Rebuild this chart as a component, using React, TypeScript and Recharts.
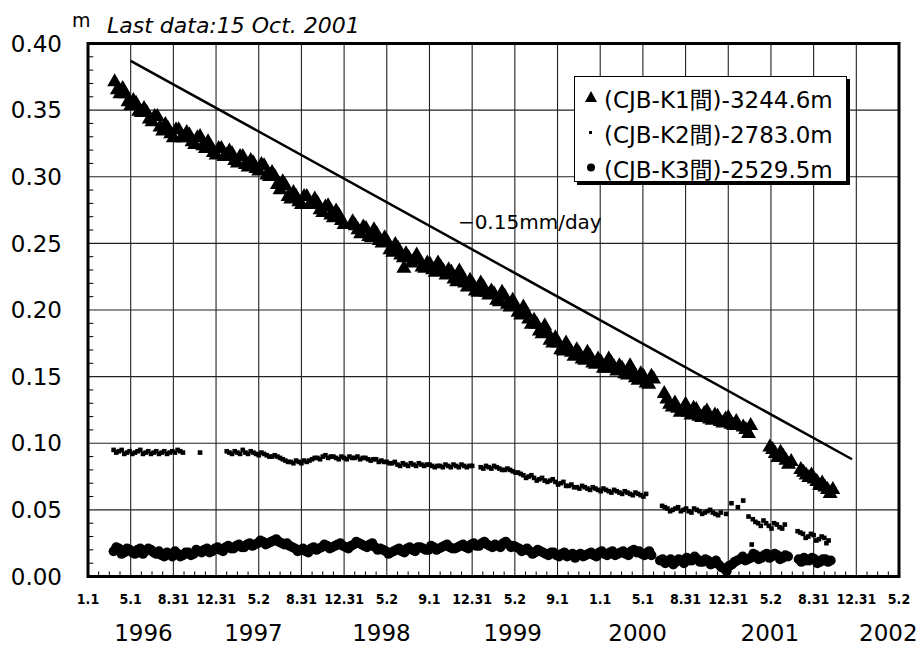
import React from 'react';
import {
  ScatterChart, Scatter, XAxis, YAxis, CartesianGrid, ReferenceArea,
  ReferenceLine, ReferenceDot, Legend,
} from 'recharts';

const FONT = '"DejaVu Sans", "Noto Sans CJK JP", sans-serif';

// x = months since 1 Jan 1996 (axis tick spacing = 4 months)
const xTickMonths = [0, 4, 8, 12, 16, 20, 24, 28, 32, 36, 40, 44, 48, 52, 56, 60, 64, 68, 72, 76];
const xTickLabels = ['1.1', '5.1', '8.31', '12.31', '5.2', '8.31', '12.31', '5.2', '9.1', '12.31', '5.2', '9.1', '1.1', '5.1', '8.31', '12.31', '5.2', '8.31', '12.31', '5.2'];
const yearTickMonths = [5.2, 15.5, 27.5, 39.8, 51.5, 63.9, 75.0];
const yearLabels = ['1996', '1997', '1998', '1999', '2000', '2001', '2002'];
const yTicks = [0, 0.05, 0.1, 0.15, 0.2, 0.25, 0.3, 0.35, 0.4];

const seriesNames = ['(CJB-K1間)-3244.6m', '(CJB-K2間)-2783.0m', '(CJB-K3間)-2529.5m'];
const trendStart = { x: 4, y: 0.387 };
const trendEnd = { x: 71.6, y: 0.088 };
const trendLabel = '−0.15mm/day';
const trendLabelPos = { x: 41.4, y: 0.266 };

const k1: [number, number][] = [
  [2.5, .372], [3.0, .363], [3.5, .363], [4.0, .354], [4.5, .356], [5.0, .349], [5.5, .349], [6.0, .342],
  [6.5, .346], [7.0, .335], [7.5, .337], [8.0, .330], [8.5, .336], [9.0, .330], [9.5, .332], [10.0, .325],
  [10.5, .331], [11.0, .322], [11.5, .323], [12.0, .317], [12.5, .322], [13.0, .317], [13.5, .318], [14.0, .311],
  [14.5, .316], [15.0, .308], [15.5, .311], [16.0, .305], [16.5, .309], [17.0, .301], [17.5, .301], [18.0, .291],
  [18.5, .294], [19.0, .284], [19.5, .286], [20.0, .280], [20.5, .286], [21.0, .280], [21.5, .281], [22.0, .274],
  [22.5, .279], [23.0, .270], [23.5, .272], [24.0, .265],
  [24.8, .267], [25.3, .261], [25.8, .263], [26.3, .256], [26.8, .261], [27.3, .253], [27.8, .255], [28.3, .246],
  [28.8, .250], [29.3, .242], [29.6, .232], [29.8, .243], [30.3, .236], [30.8, .242], [31.3, .233], [31.8, .236],
  [32.3, .231], [32.8, .236], [33.3, .230], [33.8, .231], [34.3, .224], [34.8, .230], [35.3, .221], [35.8, .223],
  [36.3, .215], [36.8, .221], [37.3, .214], [37.8, .215], [38.3, .208], [38.8, .214], [39.3, .205], [39.8, .208],
  [40.3, .199], [40.8, .203], [41.3, .194], [41.8, .193], [42.3, .185], [42.8, .189], [43.3, .178], [43.8, .180],
  [44.3, .171], [44.8, .176], [45.3, .169], [45.8, .171], [46.3, .164], [46.8, .169], [47.3, .161], [47.8, .164],
  [48.3, .157], [48.8, .164], [49.3, .158], [49.8, .159], [50.3, .153], [50.8, .159], [51.3, .150], [51.8, .153],
  [52.3, .146], [52.8, .151],
  [54.0, .138], [54.5, .130], [55.0, .131], [55.5, .124], [56.0, .130], [56.5, .122], [57.0, .126], [57.5, .120],
  [58.0, .125], [58.5, .118], [59.0, .121], [59.5, .116], [60.0, .120], [60.5, .114],
  [61.4, .113], [61.9, .108], [62.1, .114],
  [63.9, .098], [64.4, .093], [64.9, .094], [65.4, .088], [65.9, .087],
  [66.8, .081], [67.3, .077], [67.8, .077], [68.3, .072], [68.8, .071], [69.3, .066], [69.8, .066],
];
const k1b: [number, number][] = [
  [2.75, .366], [3.25, .367], [3.75, .357], [4.25, .358], [4.75, .350], [5.25, .352], [5.75, .344], [6.25, .346],
  [6.75, .338], [7.25, .340], [7.75, .333], [8.25, .336], [8.75, .330], [9.25, .334], [9.75, .327], [10.25, .330],
  [10.75, .324], [11.25, .327], [11.75, .319], [12.25, .322], [12.75, .316], [13.25, .320], [13.75, .313], [14.25, .316],
  [14.75, .310], [15.25, .313], [15.75, .307], [16.25, .310], [16.75, .302], [17.25, .304], [17.75, .295], [18.25, .297],
  [18.75, .286], [19.25, .289], [19.75, .282], [20.25, .286], [20.75, .280], [21.25, .284], [21.75, .276], [22.25, .278],
  [22.75, .272], [23.25, .275], [23.75, .268],
  [25.05, .264], [25.55, .258], [26.05, .262], [26.55, .255], [27.05, .258], [27.55, .251], [28.05, .252], [28.55, .244],
  [29.05, .247], [29.55, .240], [30.05, .240], [30.55, .238], [31.05, .238], [31.55, .232], [32.05, .235], [32.55, .229],
  [33.05, .233], [33.55, .227], [34.05, .229], [34.55, .222], [35.05, .226], [35.55, .218], [36.05, .220], [36.55, .214],
  [37.05, .218], [37.55, .212], [38.05, .213], [38.55, .207], [39.05, .211], [39.55, .203], [40.05, .204], [40.55, .197],
  [41.05, .199], [41.55, .190], [42.05, .190], [42.55, .183], [43.05, .184], [43.55, .176], [44.05, .176], [44.55, .170],
  [45.05, .172], [45.55, .166], [46.05, .168], [46.55, .163], [47.05, .166], [47.55, .160], [48.05, .162], [48.55, .157],
  [49.05, .161], [49.55, .155], [50.05, .157], [50.55, .152], [51.05, .155], [51.55, .148], [52.05, .151], [52.55, .145],
  [53.0, .149],
  [54.25, .134], [54.75, .128], [55.25, .127], [55.75, .126], [56.25, .124], [56.75, .127], [57.25, .121], [57.75, .123],
  [58.25, .119], [58.75, .122], [59.25, .117], [59.75, .119], [60.25, .115], [60.75, .117], [61.65, .111],
  [64.15, .096], [64.65, .090], [65.15, .091], [65.65, .085],
  [67.05, .079], [67.55, .075], [68.05, .074], [68.55, .069], [69.05, .068], [69.55, .063],
];

const k2: [number, number][] = [
  [2.4, .095], [2.9, .094], [3.4, .092], [3.9, .094], [4.4, .093], [4.9, .095], [5.4, .093], [5.9, .092],
  [6.4, .094], [6.9, .093], [7.4, .092], [7.9, .094], [8.4, .095], [8.9, .093], [10.5, .093],
  [13.0, .094], [13.5, .092], [14.0, .093], [14.5, .095], [15.0, .092], [15.5, .093], [16.0, .091], [16.5, .092],
  [17.0, .090], [17.5, .091], [18.0, .089], [18.5, .087], [19.0, .086], [19.5, .087], [20.0, .085], [20.5, .086],
  [21.0, .088], [21.5, .089], [22.0, .090], [22.5, .089], [23.0, .090], [23.5, .088], [24.0, .089], [24.5, .090],
  [25.0, .089], [25.5, .088], [26.0, .089], [26.5, .087], [27.0, .088], [27.5, .087], [28.0, .086], [28.5, .085],
  [29.0, .084], [29.5, .085], [30.0, .083], [30.5, .084], [31.0, .085], [31.5, .083], [32.0, .084], [32.5, .082],
  [33.0, .083], [33.5, .084], [34.0, .082], [34.5, .083], [35.0, .084], [35.5, .082], [36.0, .083],
  [36.8, .082], [37.3, .083], [37.8, .081], [38.3, .082], [38.8, .080], [39.3, .081], [39.8, .079], [40.3, .078],
  [40.8, .076], [41.3, .075], [41.8, .074], [42.3, .073], [42.8, .072], [43.3, .072], [43.8, .071], [44.3, .070],
  [44.8, .068], [45.3, .069], [45.8, .067], [46.3, .068], [46.8, .066], [47.3, .067], [47.8, .065], [48.3, .066],
  [48.8, .064], [49.3, .065], [49.8, .063], [50.3, .064], [50.8, .062], [51.3, .063], [51.8, .061], [52.3, .062],
  [53.8, .053], [54.3, .051], [54.8, .050], [55.3, .052], [55.8, .050], [56.3, .049], [56.8, .051], [57.3, .049],
  [57.8, .048], [58.3, .050], [58.8, .047], [59.3, .048], [59.8, .047],
  [60.3, .055], [60.9, .052], [61.4, .057], [61.9, .045], [62.2, .024],
  [62.3, .043], [62.8, .040], [63.3, .042], [63.8, .038], [64.3, .040], [64.8, .037], [65.3, .039],
  [66.5, .034], [67.0, .032], [67.5, .030], [68.0, .031], [68.5, .028], [69.0, .029], [69.4, .027],
];
const k2b: [number, number][] = [
  [2.65, .093], [3.15, .095], [3.65, .093], [4.15, .092], [4.65, .094], [5.15, .092], [5.65, .094], [6.15, .093],
  [6.65, .092], [7.15, .094], [7.65, .093], [8.15, .093], [8.65, .094],
  [13.25, .093], [13.75, .094], [14.25, .092], [14.75, .093], [15.25, .094], [15.75, .092], [16.25, .093], [16.75, .091],
  [17.25, .090], [17.75, .090], [18.25, .088], [18.75, .086], [19.25, .085], [19.75, .086], [20.25, .087], [20.75, .087],
  [21.25, .089], [21.75, .088], [22.25, .091], [22.75, .090], [23.25, .089], [23.75, .090], [24.25, .088], [24.75, .089],
  [25.25, .090], [25.75, .089], [26.25, .088], [26.75, .088], [27.25, .086], [27.75, .086], [28.25, .085], [28.75, .086],
  [29.25, .083], [29.75, .084], [30.25, .085], [30.75, .083], [31.25, .084], [31.75, .084], [32.25, .083], [32.75, .083],
  [33.25, .082], [33.75, .083], [34.25, .084], [34.75, .082], [35.25, .083], [35.75, .083],
  [37.05, .081], [37.55, .082], [38.05, .083], [38.55, .081], [39.05, .080], [39.55, .080], [40.05, .078], [40.55, .077],
  [41.05, .074], [41.55, .076], [42.05, .072], [42.55, .074], [43.05, .071], [43.55, .073], [44.05, .069], [44.55, .071],
  [45.05, .068], [45.55, .067], [46.05, .066], [46.55, .067], [47.05, .065], [47.55, .066], [48.05, .064], [48.55, .065],
  [49.05, .063], [49.55, .064], [50.05, .062], [50.55, .063], [51.05, .061], [51.55, .062], [52.05, .060],
  [54.05, .052], [54.55, .049], [55.05, .051], [55.55, .049], [56.05, .051], [56.55, .048], [57.05, .050], [57.55, .047],
  [58.05, .049], [58.55, .048], [59.05, .046],
  [62.55, .041], [63.05, .038], [63.55, .040], [64.05, .036], [64.55, .039], [65.05, .036],
  [66.75, .033], [67.25, .029], [67.75, .032], [68.25, .027], [68.75, .030], [69.2, .025],
];

const k3: [number, number][] = [
  [2.4, .019], [2.9, .021], [3.4, .018], [3.9, .020], [4.4, .017], [4.9, .021], [5.4, .019], [5.9, .020],
  [6.4, .017], [6.9, .016], [7.4, .018], [7.9, .015], [8.4, .017], [8.9, .016], [9.4, .018], [9.9, .017],
  [10.4, .019], [10.9, .020], [11.4, .018], [11.9, .021], [12.4, .020], [12.9, .022], [13.4, .021], [13.9, .023],
  [14.4, .022], [14.9, .024], [15.4, .023], [15.9, .025], [16.4, .026], [16.9, .025], [17.4, .027], [17.9, .026],
  [18.4, .024], [18.9, .023], [19.4, .021], [19.9, .020], [20.4, .019], [20.9, .021], [21.4, .020], [21.9, .022],
  [22.4, .023], [22.9, .022], [23.4, .024], [23.9, .023], [24.4, .021], [24.9, .024], [25.4, .025], [25.9, .023],
  [26.4, .024], [26.9, .022], [27.4, .021], [27.9, .019], [28.4, .018], [28.9, .020], [29.4, .019], [29.9, .021],
  [30.4, .020], [30.9, .022], [31.4, .021], [31.9, .020], [32.4, .022], [32.9, .021], [33.4, .023], [33.9, .022],
  [34.4, .021], [34.9, .023], [35.4, .022], [35.9, .024], [36.4, .023], [36.9, .025], [37.4, .024], [37.9, .022],
  [38.4, .023], [38.9, .025], [39.4, .024], [39.9, .023], [40.4, .021], [40.9, .020], [41.4, .019], [41.9, .018],
  [42.4, .019], [42.9, .017], [43.4, .018], [43.9, .016], [44.4, .017], [44.9, .015], [45.4, .017], [45.9, .016],
  [46.4, .015], [46.9, .017], [47.4, .016], [47.9, .018], [48.4, .017], [48.9, .018], [49.4, .016], [49.9, .018],
  [50.4, .017], [50.9, .019], [51.4, .018], [51.9, .017], [52.4, .018], [52.8, .016],
  [53.6, .012], [54.1, .010], [54.6, .013], [55.1, .011], [55.6, .012], [56.1, .014], [56.6, .012], [57.1, .013],
  [57.6, .011], [58.1, .012], [58.6, .010], [59.1, .009], [59.6, .006], [60.1, .008], [60.6, .011], [61.1, .013],
  [61.6, .012], [62.1, .014], [62.6, .016], [63.1, .014], [63.6, .017], [64.1, .015], [64.6, .016], [65.1, .014],
  [65.6, .015],
  [66.6, .013], [67.1, .014], [67.6, .012], [68.1, .013], [68.6, .011], [69.1, .013], [69.6, .012],
];
const k3b: [number, number][] = [
  [2.65, .022], [3.15, .017], [3.65, .021], [4.15, .018], [4.65, .020], [5.15, .017], [5.65, .021], [6.15, .018],
  [6.65, .019], [7.15, .015], [7.65, .017], [8.15, .019], [8.65, .015], [9.15, .018], [9.65, .016], [10.15, .020],
  [10.65, .018], [11.15, .021], [11.65, .019], [12.15, .022], [12.65, .019], [13.15, .023], [13.65, .021], [14.15, .024],
  [14.65, .022], [15.15, .025], [15.65, .024], [16.15, .027], [16.65, .024], [17.15, .026], [17.65, .028], [18.15, .025],
  [18.65, .025], [19.15, .022], [19.65, .019], [20.15, .021], [20.65, .018], [21.15, .022], [21.65, .021], [22.15, .024],
  [22.65, .021], [23.15, .023], [23.65, .025], [24.15, .022], [24.65, .023], [25.15, .026], [25.65, .024], [26.15, .022],
  [26.65, .025], [27.15, .020], [27.65, .020], [28.15, .017], [28.65, .019], [29.15, .021], [29.65, .018], [30.15, .022],
  [30.65, .019], [31.15, .022], [31.65, .020], [32.15, .023], [32.65, .020], [33.15, .022], [33.65, .024], [34.15, .021],
  [34.65, .022], [35.15, .024], [35.65, .021], [36.15, .025], [36.65, .023], [37.15, .026], [37.65, .023], [38.15, .024],
  [38.65, .022], [39.15, .026], [39.65, .022], [40.15, .022], [40.65, .019], [41.15, .021], [41.65, .017], [42.15, .020],
  [42.65, .018], [43.15, .016], [43.65, .018], [44.15, .015], [44.65, .018], [45.15, .016], [45.65, .014], [46.15, .017],
  [46.65, .016], [47.15, .018], [47.65, .015], [48.15, .019], [48.65, .016], [49.15, .019], [49.65, .017], [50.15, .019],
  [50.65, .016], [51.15, .020], [51.65, .019], [52.15, .016], [52.6, .019],
  [53.85, .013], [54.35, .011], [54.85, .009], [55.35, .013], [55.85, .010], [56.35, .012], [56.85, .015], [57.35, .011],
  [57.85, .013], [58.35, .009], [58.85, .012], [59.35, .007], [59.85, .004], [60.35, .009], [60.85, .012], [61.35, .015],
  [61.85, .013], [62.35, .017], [62.85, .013], [63.35, .016], [63.85, .014], [64.35, .017], [64.85, .013], [65.35, .016],
  [66.85, .011], [67.35, .012], [67.85, .014], [68.35, .010], [68.85, .013], [69.35, .011],
];

const toPts = (arr: [number, number][]) => arr.map(([x, y]) => ({ x, y }));
const minorXTicks = Array.from({ length: 75 }, (_, i) => i + 1).filter((m) => m % 4 !== 0);
const minorYTicks = Array.from({ length: 39 }, (_, i) => +((i + 1) * 0.01).toFixed(2)).filter((_, i) => (i + 1) % 5 !== 0);

const Tri = (p: any) => (
  <polygon points={`${p.cx},${p.cy - 7.5} ${p.cx - 7.5},${p.cy + 5.5} ${p.cx + 7.5},${p.cy + 5.5}`} fill="#000" />
);
const Sq = (p: any) => <rect x={p.cx - 2.3} y={p.cy - 2.3} width={4.6} height={4.6} fill="#000" />;
const Dot = (p: any) => <circle cx={p.cx} cy={p.cy} r={5} fill="#000" />;

const legendSymbols = [
  <polygon key="a" points="6,1 0,12 12,12" fill="#000" />,
  <rect key="b" x={4} y={6} width={3} height={3} fill="#000" />,
  <circle key="c" cx={6} cy={7.5} r={4} fill="#000" />,
];

const LegendBox = () => (
  <div
    style={{
      width: 273, height: 106, boxSizing: 'border-box', border: '1px solid #000', background: '#fff',
      boxShadow: '3px 3px 0 #000', fontFamily: FONT, fontSize: 23, color: '#000', paddingTop: 3, paddingLeft: 10,
    }}
  >
    {seriesNames.map((n, i) => (
      <div key={n} style={{ height: 35, display: 'flex', alignItems: 'center', whiteSpace: 'nowrap' }}>
        <svg width={19} height={15} style={{ flex: 'none' }}>{legendSymbols[i]}</svg>
        <span>{n}</span>
      </div>
    ))}
  </div>
);

export default function App() {
  return (
    <div style={{ position: 'absolute', left: 0, top: 0, background: '#fff' }}>
      <ScatterChart width={919} height={648} margin={{ top: 43.5, right: 20, bottom: 43.5, left: 0 }}>
        <CartesianGrid stroke="#222" strokeWidth={1.1} />
        <XAxis
          dataKey="x" type="number" domain={[0, 76]} ticks={xTickMonths} interval={0}
          tickFormatter={(v: number) => xTickLabels[xTickMonths.indexOf(v)] ?? ''}
          tick={{ fill: '#000', fontSize: 14, fontFamily: '"DejaVu Sans Condensed", "DejaVu Sans", sans-serif', fontWeight: 'bold' }}
          tickLine={false} axisLine={false} tickSize={0} tickMargin={18} height={28}
        />
        <YAxis
          dataKey="y" type="number" domain={[0, 0.4]} ticks={yTicks} interval={0}
          tickFormatter={(v: number) => v.toFixed(2)}
          tick={{ fill: '#000', fontSize: 23, fontFamily: FONT }}
          tickLine={false} axisLine={false} tickSize={0} tickMargin={26} width={88}
        />
        {minorXTicks.map((m) => (
          <ReferenceLine key={`mx${m}`} segment={[{ x: m, y: 0 }, { x: m, y: 0.0038 }]} stroke="#000" strokeWidth={1} />
        ))}
        {minorYTicks.map((v) => (
          <ReferenceLine key={`my${v}`} segment={[{ x: 0, y: v }, { x: 0.5, y: v }]} stroke="#000" strokeWidth={1} />
        ))}
        <ReferenceArea x1={0} x2={76} y1={0} y2={0.4} fill="none" stroke="#000" strokeWidth={3} />
        <ReferenceLine segment={[trendStart, trendEnd]} stroke="#000" strokeWidth={2.5} />
        <ReferenceDot
          x={trendLabelPos.x} y={trendLabelPos.y} r={0} fill="none" stroke="none"
          label={{ value: trendLabel, position: 'center', fill: '#000', fontSize: 20, fontFamily: FONT }}
        />
        {yearTickMonths.map((m, i) => (
          <ReferenceDot
            key={yearLabels[i]} x={m} y={0} r={0} fill="none" stroke="none"
            label={{ value: yearLabels[i], position: 'bottom', offset: 48, fill: '#000', fontSize: 23, fontFamily: FONT }}
          />
        ))}
        <Scatter name={seriesNames[0]} data={toPts([...k1, ...k1b])} shape={Tri} isAnimationActive={false} />
        <Scatter name={seriesNames[1]} data={toPts([...k2, ...k2b])} shape={Sq} isAnimationActive={false} />
        <Scatter name={seriesNames[2]} data={toPts([...k3, ...k3b])} shape={Dot} isAnimationActive={false} />
        <Legend
          layout="vertical" align="center" verticalAlign="middle" content={LegendBox}
          wrapperStyle={{ left: 574, top: 76, width: 276, height: 110 }}
        />
        <text x={72} y={27} fontSize={19} fontFamily={FONT} fill="#000">m</text>
        <text x={107} y={33} fontSize={22} fontStyle="italic" fontFamily={FONT} fill="#000">Last data:15 Oct. 2001</text>
      </ScatterChart>
    </div>
  );
}
